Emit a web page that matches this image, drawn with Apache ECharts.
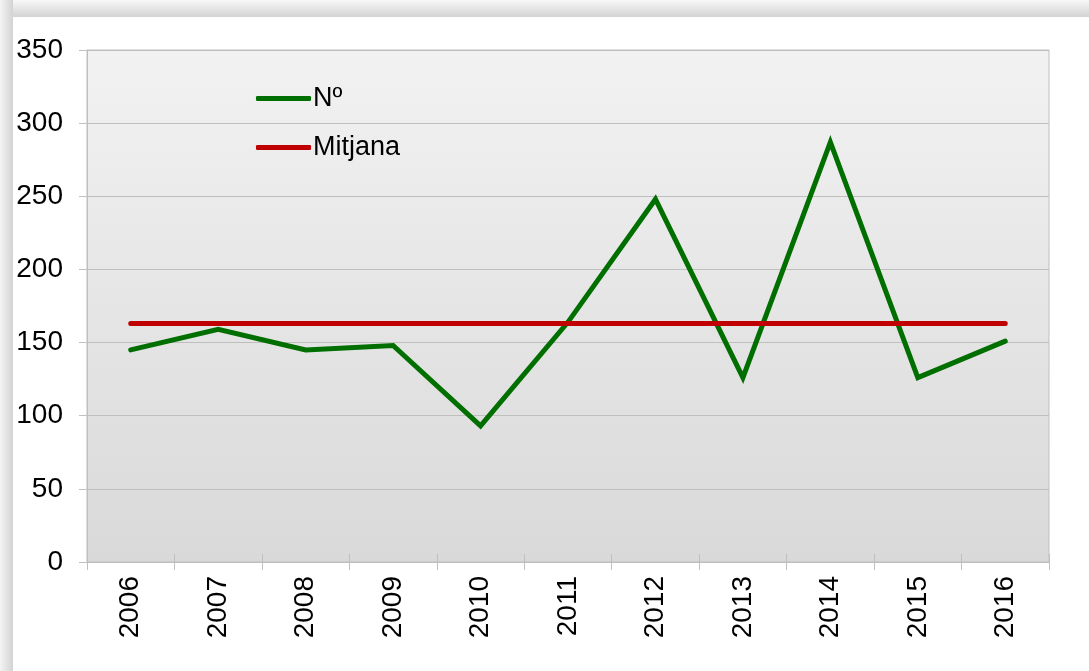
<!DOCTYPE html>
<html>
<head>
<meta charset="utf-8">
<script src="https://cdn.jsdelivr.net/npm/echarts@6/dist/echarts.min.js"></script>
<style>
  body { margin: 0; background: #fff; }
  #topShade { position: absolute; left: 0; top: 0; width: 1089px; height: 17px;
    background: linear-gradient(to bottom, #f8f8f8, #d3d3d3); }
  #leftShade { position: absolute; left: 0; top: 0; width: 13px; height: 671px;
    background: linear-gradient(to right, #f4f4f4, #d3d3d3); }
  #chart { position: absolute; left: 13px; top: 17px; width: 1076px; height: 654px; background: #fff; }
</style>
</head>
<body>
<div id="topShade"></div>
<div id="leftShade"></div>
<div id="chart"></div>
<script>
// dades
const years = ['2006', '2007', '2008', '2009', '2010', '2011', '2012', '2013', '2014', '2015', '2016']
const numValues = [145, 159, 145, 148, 93, 164, 248, 126, 287, 126, 151]
const mitjanaValues = [163, 163, 163, 163, 163, 163, 163, 163, 163, 163, 163]
const yTicks = [0, 50, 100, 150, 200, 250, 300, 350]

const font = 'Liberation Sans, Arial, sans-serif'
const chart = echarts.init(document.getElementById('chart'))

chart.setOption({
    animation: false,
    textStyle: { fontFamily: font },
    grid: {
        left: 74,
        top: 33,
        right: 40,
        bottom: 109,
        show: true,
        borderColor: '#bfbfbf',
        borderWidth: 1,
        backgroundColor: new echarts.graphic.LinearGradient(0, 0, 0, 1, [
            { offset: 0, color: '#f2f2f2' },
            { offset: 1, color: '#d9d9d9' }
        ])
    },
    legend: {
        orient: 'vertical',
        left: 243,
        top: 68,
        padding: 0,
        itemGap: 22,
        itemWidth: 55,
        itemHeight: 5,
        icon: 'roundRect',
        textStyle: { fontSize: 27, color: '#000', fontFamily: font, padding: [0, 0, 0, -3] },
        data: ['Nº', 'Mitjana']
    },
    xAxis: [{
        type: 'category',
        data: years,
        boundaryGap: true,
        axisLine: { lineStyle: { color: '#bfbfbf', width: 1 } },
        axisTick: { show: true, length: 8, interval: 0, lineStyle: { color: '#bfbfbf' } },
        axisLabel: { rotate: 90, fontSize: 28, color: '#000', margin: 14, interval: 0, fontFamily: font },
        splitLine: { show: false }
    }, {
        type: 'category',
        data: years,
        position: 'bottom',
        boundaryGap: true,
        axisLine: { show: false },
        axisTick: { show: true, inside: true, length: 8, interval: 0, lineStyle: { color: '#bfbfbf' } },
        axisLabel: { show: false },
        splitLine: { show: false }
    }],
    yAxis: {
        type: 'value',
        min: yTicks[0],
        max: yTicks[yTicks.length - 1],
        interval: 50,
        axisLine: { show: true, lineStyle: { color: '#bfbfbf', width: 1 } },
        axisTick: { show: true, length: 8, lineStyle: { color: '#bfbfbf' } },
        axisLabel: { fontSize: 28, color: '#000', margin: 24, fontFamily: font },
        splitLine: { lineStyle: { color: '#bfbfbf', width: 1 } }
    },
    series: [{
        name: 'Nº',
        type: 'line',
        data: numValues,
        showSymbol: false,
        symbol: 'none',
        color: '#006f00',
        lineStyle: { color: '#006f00', width: 5, cap: 'round', join: 'miter' },
        z: 3
    }, {
        name: 'Mitjana',
        type: 'line',
        data: mitjanaValues,
        showSymbol: false,
        symbol: 'none',
        color: '#c00000',
        lineStyle: { color: '#c00000', width: 5, cap: 'round' },
        z: 4
    }]
})
</script>
</body>
</html>
